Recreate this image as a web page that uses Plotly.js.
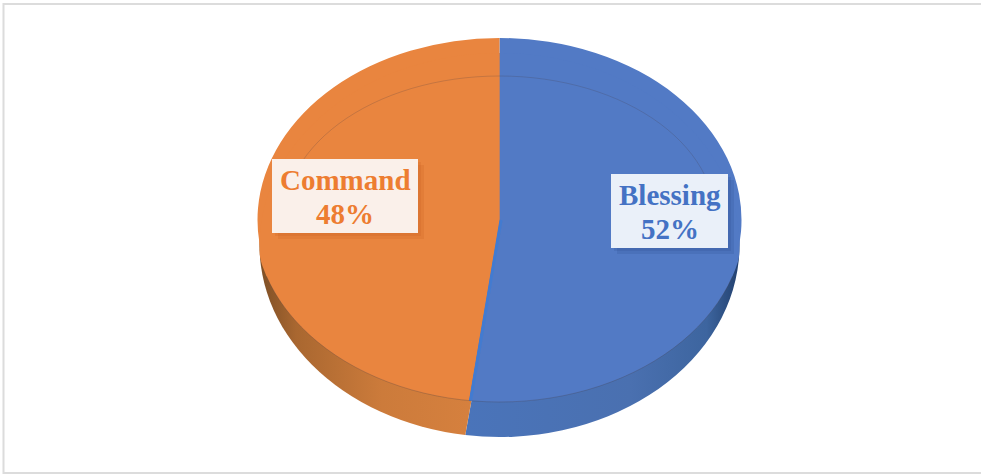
<!DOCTYPE html>
<html><head><meta charset="utf-8">
<script src="https://cdn.plot.ly/plotly-3.0.1.min.js"></script>
<style>html,body{margin:0;padding:0;background:#fff}#c{width:981px;height:474px}</style>
</head><body><div id="c"></div>
<script>
const categories = ['Blessing', 'Command'];
const shares = [52, 48];
const topColors = ['#527ac5', '#e9853f'];
const labelColors = ['#4472c4', '#ed7d31'];

const W = 981, H = 474;
const px = v => v / W, py = v => 1 - v / H;
const CX = 499.5;
const WALL = {cy: 245, rx: 240, ry: 192};
const TOP = {cy: 220, rx: 242, ry: 182};
const FRONT = {cy: 220, rx: 245, ry: 182};
const discs = [WALL, TOP, FRONT];

const sliceTrace = (colors, rotation) => ({
  type: 'pie', labels: categories, values: shares, sort: false,
  direction: 'clockwise', rotation, textinfo: 'none', showlegend: false,
  hoverinfo: 'label+percent', marker: {colors, line: {width: 0}}
});
const traces = [sliceTrace(['#4a72b5', '#c87a3c'], 1), sliceTrace(topColors, 0), sliceTrace(topColors, 0)];

const rect = (x0, y0, x1, y1, extra) => Object.assign({type: 'rect', xref: 'paper', yref: 'paper',
  x0: px(x0), x1: px(x1), y0: py(y0), y1: py(y1)}, extra);

const arcPath = (e, a0, a1) => {
  let p = '';
  for (let a = a0; a <= a1 + 0.01; a += 3) {
    const t = a * Math.PI / 180;
    p += (p ? 'L' : 'M') + px(CX + e.rx * Math.cos(t)) + ',' + py(e.cy + e.ry * Math.sin(t));
  }
  return p;
};

const boxes = [
  {i: 1, x0: 272, y0: 159, x1: 418, y1: 233, fill: '#faf0ea', shadow: 'rgba(190,90,25,0.16)', tx: 345, ty: [180, 214]},
  {i: 0, x0: 611, y0: 174, x1: 728, y1: 248, fill: '#eaf0f9', shadow: 'rgba(40,70,130,0.16)', tx: 669.5, ty: [195, 229]}
];

const splitAngle = shares[0] / (shares[0] + shares[1]) * 2 * Math.PI;
const shapes = [
  rect(3.5, 4, 990, 473, {line: {color: '#dcdcdc', width: 2}, fillcolor: 'rgba(0,0,0,0)', layer: 'below'}),
  {type: 'path', xref: 'paper', yref: 'paper', path: arcPath({cy: 220, rx: 216, ry: 144}, 180, 360),
   line: {color: 'rgba(70,60,70,0.22)', width: 1}, layer: 'above'},
  {type: 'path', xref: 'paper', yref: 'paper', path: arcPath(FRONT, 18, 162),
   line: {color: 'rgba(70,60,70,0.28)', width: 1}, layer: 'above'},
  {type: 'line', xref: 'paper', yref: 'paper', layer: 'above', line: {color: 'rgba(58,125,215,0.65)', width: 3},
   x0: px(CX + 1.5), y0: py(TOP.cy), x1: px(CX + 1.5 + TOP.rx * Math.sin(splitAngle)), y1: py(TOP.cy - TOP.ry * Math.cos(splitAngle))}
];
const annotations = [];
boxes.forEach(b => {
  [6, 3].forEach(o => shapes.push(rect(b.x0 + o, b.y0 + o, b.x1 + o, b.y1 + o, {line: {width: 0}, fillcolor: b.shadow, layer: 'above'})));
  shapes.push(rect(b.x0, b.y0, b.x1, b.y1, {line: {width: 0}, fillcolor: b.fill, layer: 'above'}));
  [categories[b.i], shares[b.i] + '%'].forEach((t, k) => annotations.push({
    text: '<b>' + t + '</b>', xref: 'paper', yref: 'paper', x: px(b.tx), y: py(b.ty[k]),
    xanchor: 'center', yanchor: 'middle', showarrow: false,
    font: {family: '"Liberation Serif", serif', size: 29, color: labelColors[b.i]}
  }));
});

const layout = {
  width: W, height: H, margin: {l: 0, r: 0, t: 0, b: 0},
  paper_bgcolor: '#fff', shapes, annotations, showlegend: false
};

Plotly.newPlot('c', traces, layout, {displayModeBar: false}).then(gd => {
  const svg = gd.querySelector('.main-svg');
  const ns = 'http://www.w3.org/2000/svg';
  const defs = svg.querySelector('defs') || svg.insertBefore(document.createElementNS(ns, 'defs'), svg.firstChild);
  const grad = (id, stops) => {
    const g = document.createElementNS(ns, 'linearGradient');
    g.setAttribute('id', id);
    stops.forEach(([o, c]) => {
      const s = document.createElementNS(ns, 'stop');
      s.setAttribute('offset', o); s.setAttribute('stop-color', c); g.appendChild(s);
    });
    defs.appendChild(g);
  };
  grad('wallBlue', [[0, '#4a74ba'], [0.6, '#4a70b0'], [0.88, '#3d659f'], [1, '#22406e']]);
  grad('wallOrange', [[0, '#7d4f26'], [0.15, '#a96730'], [0.5, '#cc7b3b'], [1, '#d9823f']]);

  gd.querySelectorAll('.pielayer .trace').forEach((g, i) => {
    const c = gd.calcdata[i][0], e = discs[i];
    const sx = e.rx / c.r, sy = e.ry / c.r;
    g.setAttribute('transform',
      `translate(${CX},${e.cy}) scale(${sx},${sy}) translate(${-c.cx},${-c.cy})`);
    if (i === 0) {
      const paths = g.querySelectorAll('path.surface');
      paths[0].style.fill = 'url(#wallBlue)';
      paths[1].style.fill = 'url(#wallOrange)';
    }
    if (i === 2) {
      const clip = document.createElementNS(ns, 'clipPath');
      clip.setAttribute('id', 'frontClip');
      const el = document.createElementNS(ns, 'ellipse');
      el.setAttribute('cx', c.cx);
      el.setAttribute('cy', c.cy + (WALL.cy - e.cy) / sy);
      el.setAttribute('rx', WALL.rx / sx);
      el.setAttribute('ry', WALL.ry / sy);
      clip.appendChild(el); defs.appendChild(clip);
      g.setAttribute('clip-path', 'url(#frontClip)');
    }
  });
});
</script></body></html>
